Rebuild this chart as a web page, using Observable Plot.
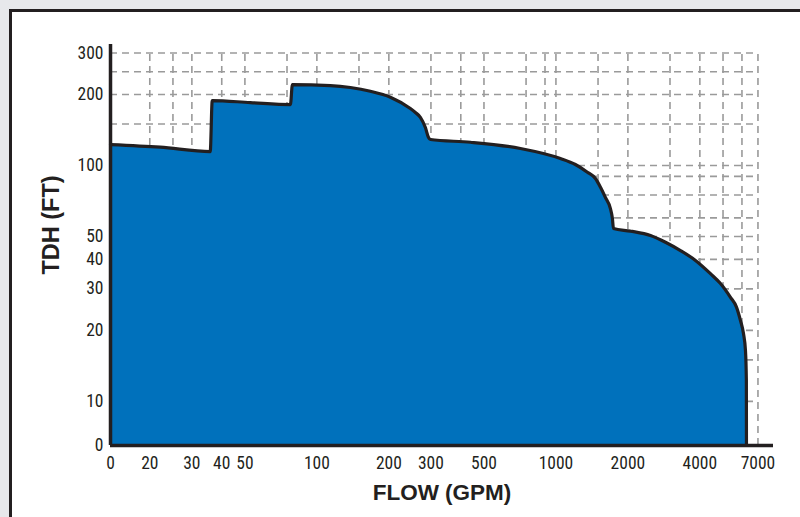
<!DOCTYPE html>
<html>
<head>
<meta charset="utf-8">
<script src="https://cdn.jsdelivr.net/npm/d3@7"></script>
<script src="https://cdn.jsdelivr.net/npm/@observablehq/plot@0.6"></script>
<style>
  html, body { margin: 0; padding: 0; width: 800px; height: 517px; overflow: hidden; background: #e7e8eb; }
  #panel { position: absolute; left: 9px; top: 9px; width: 800px; height: 520px; border: 3px solid #231f20; background: #fff; }
  #chart { position: absolute; left: 0; top: 0; }
</style>
</head>
<body>
<div id="panel"></div>
<div id="chart"></div>
<script>
// Axis origin values (where the "0" labels sit on the log axes)
const xZero = 13.7;
const yZero = 6.5;

// Pump performance envelope: flow (GPM) vs TDH (FT)
const flow = [13.7, 22.1, 35.8, 36.5, 52.7, 77.5, 79.0, 113.9, 138.1, 167.4, 203.0, 246.1, 258.3, 271.0, 284.4, 292.8, 298.5,
  438.9, 710.4, 1044, 1206, 1354, 1463, 1536, 1611, 1690, 1723, 1740, 2050, 2486, 2872, 3319, 3835, 4430, 4879, 5373,
  5691, 5916, 6088, 6207, 6260, 6266];
const tdh = [122.7, 119.6, 114.6, 188.6, 184.9, 181.4, 220.5, 218.4, 214.2, 206.5, 194.8, 174.4, 167.8, 160.2, 144.9, 131.8, 128.9,
  125.5, 118.1, 107.1, 101.0, 93.7, 88.1, 80.9, 73.2, 65.7, 59.6, 54.1, 52.7, 50.5, 47.3, 43.6, 39.6, 34.8, 31.6, 27.6,
  25.1, 22.0, 19.4, 16.4, 12.3, 6.5];

// Tick labels
const xTickValues = [xZero, 20, 30, 40, 50, 100, 200, 300, 500, 1000, 2000, 4000, 7000];
const xTickLabels = ["0", "20", "30", "40", "50", "100", "200", "300", "500", "1000", "2000", "4000", "7000"];
const yTickValues = [yZero, 10, 20, 30, 40, 50, 100, 200, 300];
const yTickLabels = ["0", "10", "20", "30", "40", "50", "100", "200", "300"];

// Dashed grid lines
const xGrid = [20, 25, 30, 40, 50, 75, 100, 150, 200, 300, 400, 500, 750, 900, 1000, 1500, 2000, 3000, 4000, 5000, 6000, 7000];
const yGrid = [10, 15, 20, 30, 40, 50, 60, 75, 90, 100, 150, 200, 250, 300];

const curve = flow.map((f, i) => ({flow: f, tdh: tdh[i]}));
const xTicks = xTickValues.map((v, i) => ({v, label: xTickLabels[i]}));
const yTicks = yTickValues.map((v, i) => ({v, label: yTickLabels[i]}));

const tickFont = "'Liberation Sans Narrow', 'Arial Narrow', 'Roboto Condensed', sans-serif";
const titleFont = "'Liberation Sans', Arial, Helvetica, sans-serif";
const ink = "#231f20";

const plot = Plot.plot({
  width: 800,
  height: 517,
  marginLeft: 110,
  marginRight: 27,
  marginTop: 44,
  marginBottom: 72,
  style: {background: "transparent", fontFamily: titleFont},
  x: {type: "log", domain: [xZero, 8130], axis: null},
  y: {type: "log", domain: [yZero, 326], axis: null},
  marks: [
    Plot.ruleX(xGrid, {x: d => d, y1: yZero, y2: 300, stroke: "#9a9a9a", strokeWidth: 1.6, strokeDasharray: "7,5"}),
    Plot.ruleY(yGrid, {y: d => d, x1: xZero, x2: 7000, stroke: "#9a9a9a", strokeWidth: 1.6, strokeDasharray: "7,5"}),
    Plot.areaY(curve, {x: "flow", y1: yZero, y2: "tdh", fill: "#0071bc", curve: "monotone-x"}),
    Plot.line(curve, {x: "flow", y: "tdh", stroke: ink, strokeWidth: 3.2, strokeLinejoin: "miter", curve: "monotone-x"}),
    Plot.ruleY([yZero], {stroke: ink, strokeWidth: 3.5}),
    Plot.ruleX([xZero], {stroke: ink, strokeWidth: 3.5}),
    Plot.text(xTicks, {x: "v", y: yZero, text: "label", dy: 18, fontSize: 17.5, fontFamily: tickFont, fill: ink}),
    Plot.text(yTicks, {x: xZero, y: "v", text: "label", dx: -7, textAnchor: "end", fontSize: 17.5, fontFamily: tickFont, fill: ink}),
    Plot.text(["FLOW (GPM)"], {frameAnchor: "bottom", textAnchor: "middle", lineAnchor: "middle", dy: 47, fontSize: 22.5, fontWeight: "bold", fill: ink, text: d => d}),
    Plot.text(["TDH (FT)"], {frameAnchor: "left", textAnchor: "middle", lineAnchor: "middle", dx: -59, dy: -20, rotate: -90, fontSize: 23.5, fontWeight: "bold", fill: ink, text: d => d})
  ]
});
document.getElementById("chart").appendChild(plot);
</script>
</body>
</html>
